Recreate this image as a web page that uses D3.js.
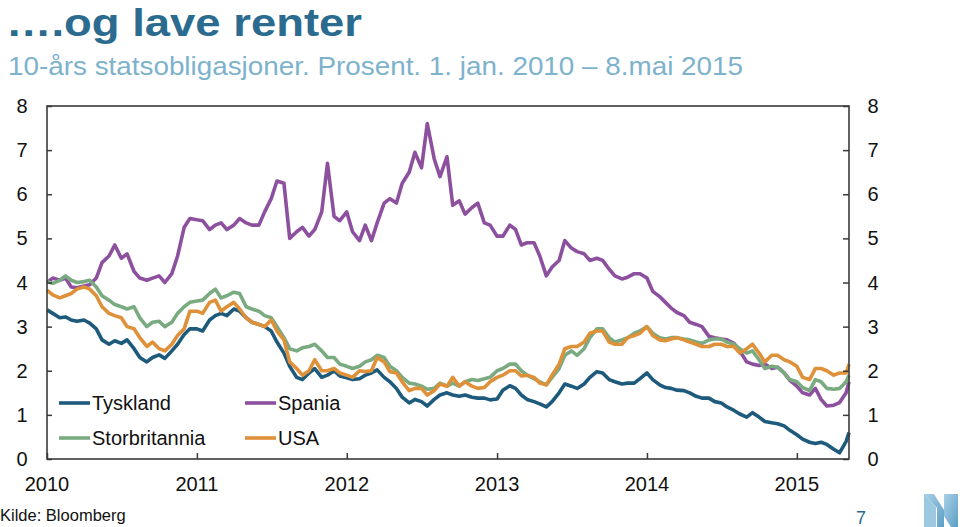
<!DOCTYPE html>
<html><head><meta charset="utf-8">
<script src="https://cdn.jsdelivr.net/npm/d3@7"></script>
<style>body{margin:0;background:#fff}svg{display:block}</style>
</head><body>
<svg id="c" width="960" height="527"></svg>
<script>
const dates = [
"2010-01-01","2010-01-15","2010-02-01","2010-02-15","2010-03-01","2010-03-15","2010-04-01","2010-04-15","2010-05-01","2010-05-15","2010-06-01","2010-06-15",
"2010-07-01","2010-07-15","2010-08-01","2010-08-15","2010-09-01","2010-09-15","2010-10-01","2010-10-15","2010-11-01","2010-11-15","2010-12-01","2010-12-15",
"2011-01-01","2011-01-15","2011-02-01","2011-02-15","2011-03-01","2011-03-15","2011-04-01","2011-04-15","2011-05-01","2011-05-15","2011-06-01","2011-06-15",
"2011-07-01","2011-07-15","2011-08-01","2011-08-15","2011-09-01","2011-09-15","2011-10-01","2011-10-15","2011-11-01","2011-11-15","2011-12-01","2011-12-15",
"2012-01-01","2012-01-15","2012-02-01","2012-02-15","2012-03-01","2012-03-15","2012-04-01","2012-04-15","2012-05-01","2012-05-15","2012-06-01","2012-06-15",
"2012-07-01","2012-07-15","2012-08-01","2012-08-15","2012-09-01","2012-09-15","2012-10-01","2012-10-15","2012-11-01","2012-11-15","2012-12-01","2012-12-15",
"2013-01-01","2013-01-15","2013-02-01","2013-02-15","2013-03-01","2013-03-15","2013-04-01","2013-04-15","2013-05-01","2013-05-15","2013-06-01","2013-06-15",
"2013-07-01","2013-07-15","2013-08-01","2013-08-15","2013-09-01","2013-09-15","2013-10-01","2013-10-15","2013-11-01","2013-11-15","2013-12-01","2013-12-15",
"2014-01-01","2014-01-15","2014-02-01","2014-02-15","2014-03-01","2014-03-15","2014-04-01","2014-04-15","2014-05-01","2014-05-15","2014-06-01","2014-06-15",
"2014-07-01","2014-07-15","2014-08-01","2014-08-15","2014-09-01","2014-09-15","2014-10-01","2014-10-15","2014-11-01","2014-11-15","2014-12-01","2014-12-15",
"2015-01-01","2015-01-15","2015-02-01","2015-02-15","2015-03-01","2015-03-15","2015-04-01","2015-04-15","2015-05-01","2015-05-08"];

const tyskland = [
3.38,3.30,3.20,3.22,3.15,3.12,3.15,3.08,2.95,2.70,2.60,2.68,
2.62,2.70,2.50,2.30,2.20,2.30,2.36,2.28,2.45,2.60,2.82,2.95,
2.95,2.90,3.15,3.25,3.30,3.25,3.40,3.35,3.20,3.10,3.05,3.00,
2.90,2.65,2.40,2.10,1.85,1.80,1.95,2.05,1.85,1.90,2.00,1.88,
1.84,1.80,1.82,1.90,1.95,2.02,1.85,1.75,1.60,1.40,1.27,1.35,
1.30,1.20,1.35,1.45,1.50,1.45,1.42,1.45,1.40,1.38,1.38,1.34,
1.36,1.56,1.66,1.60,1.45,1.35,1.30,1.25,1.18,1.30,1.50,1.70,
1.65,1.60,1.70,1.85,1.98,1.95,1.80,1.75,1.70,1.72,1.72,1.82,
1.95,1.80,1.68,1.62,1.60,1.56,1.55,1.50,1.42,1.38,1.38,1.30,
1.27,1.18,1.10,1.02,0.95,1.05,0.95,0.85,0.82,0.80,0.75,0.65,
0.55,0.45,0.38,0.35,0.38,0.33,0.22,0.14,0.40,0.60];

const spania = [
4.00,4.10,4.05,4.10,3.90,3.88,3.92,3.95,4.10,4.45,4.60,4.85,
4.55,4.65,4.25,4.10,4.05,4.10,4.15,4.00,4.20,4.60,5.25,5.45,
5.42,5.40,5.20,5.30,5.35,5.20,5.30,5.45,5.35,5.30,5.30,5.60,
5.90,6.30,6.25,5.00,5.15,5.25,5.05,5.20,5.60,6.70,5.50,5.40,
5.60,5.15,4.95,5.30,4.95,5.35,5.80,5.90,5.80,6.25,6.50,6.95,
6.60,7.60,6.80,6.40,6.85,5.75,5.85,5.55,5.70,5.80,5.35,5.30,
5.05,5.05,5.30,5.20,4.85,4.90,4.90,4.60,4.15,4.35,4.50,4.95,
4.78,4.70,4.65,4.50,4.55,4.50,4.30,4.15,4.08,4.12,4.20,4.20,
4.10,3.80,3.68,3.55,3.42,3.32,3.25,3.10,3.05,3.00,2.78,2.75,
2.72,2.70,2.62,2.45,2.20,2.15,2.12,2.15,2.05,2.08,1.95,1.78,
1.65,1.50,1.45,1.60,1.35,1.20,1.22,1.28,1.50,1.75];

const storbritannia = [
4.02,3.98,4.05,4.15,4.05,4.00,4.02,4.05,3.90,3.70,3.60,3.50,
3.45,3.40,3.45,3.20,3.00,3.10,3.12,3.00,3.10,3.30,3.45,3.55,
3.58,3.60,3.75,3.85,3.65,3.70,3.78,3.75,3.45,3.40,3.35,3.25,
3.20,3.00,2.75,2.50,2.45,2.52,2.55,2.60,2.45,2.30,2.30,2.15,
2.10,2.05,2.10,2.20,2.25,2.35,2.30,2.10,2.00,1.85,1.72,1.70,
1.65,1.58,1.60,1.72,1.65,1.72,1.65,1.75,1.80,1.78,1.82,1.85,
2.00,2.05,2.15,2.15,2.00,1.90,1.82,1.75,1.68,1.85,2.05,2.35,
2.45,2.35,2.50,2.75,2.95,2.95,2.75,2.65,2.70,2.75,2.85,2.90,
3.00,2.85,2.75,2.72,2.75,2.75,2.72,2.70,2.65,2.62,2.70,2.72,
2.72,2.65,2.60,2.50,2.40,2.45,2.25,2.05,2.10,2.08,1.95,1.80,
1.75,1.62,1.55,1.80,1.75,1.60,1.58,1.60,1.75,1.90];

const usa = [
3.83,3.72,3.65,3.70,3.75,3.85,3.90,3.85,3.70,3.45,3.30,3.25,
3.20,3.00,2.95,2.75,2.55,2.65,2.50,2.45,2.60,2.80,2.95,3.35,
3.35,3.30,3.55,3.60,3.35,3.45,3.55,3.40,3.20,3.10,3.05,3.00,
3.15,2.90,2.70,2.20,2.05,1.90,2.00,2.25,2.00,2.00,2.05,1.95,
1.90,1.85,2.00,1.98,2.00,2.30,2.20,1.98,1.95,1.75,1.55,1.60,
1.60,1.45,1.55,1.70,1.65,1.85,1.65,1.75,1.65,1.60,1.62,1.75,
1.85,1.90,2.00,2.00,1.88,1.90,1.85,1.72,1.68,1.90,2.15,2.50,
2.55,2.55,2.65,2.85,2.90,2.90,2.65,2.60,2.60,2.75,2.80,2.85,
3.00,2.80,2.70,2.68,2.72,2.75,2.70,2.65,2.60,2.55,2.55,2.60,
2.60,2.55,2.55,2.40,2.50,2.60,2.40,2.20,2.35,2.35,2.25,2.20,
2.10,1.85,1.80,2.05,2.05,2.00,1.90,1.95,1.95,2.15];

const seriesNames = ["Tyskland","Spania","Storbritannia","USA"];
const seriesColors = ["#1d5a7c","#8d509e","#79aa80","#df9139"];
const yTicks = [0,1,2,3,4,5,6,7,8];
const xTickYears = ["2010","2011","2012","2013","2014","2015"];

const svg = d3.select("#c");
const parse = d3.timeParse("%Y-%m-%d");
const dd = dates.map(parse);
const L = 47, R = 849, T = 106, B = 459;
const x = d3.scaleTime().domain([parse("2010-01-01"), parse("2015-05-08")]).range([L, R]);
const y = d3.scaleLinear().domain([0, 8]).range([B, T]);
const font = "Liberation Sans, Arial, sans-serif";

// title
svg.append("text").attr("x", 6).attr("y", 36).attr("font-family", font).attr("font-weight", "bold")
  .attr("font-size", 39).attr("fill", "#2a6b8f")
  .attr("textLength", 356).attr("lengthAdjust", "spacingAndGlyphs").text("….og lave renter");
svg.append("text").attr("x", 8).attr("y", 75).attr("font-family", font)
  .attr("font-size", 25).attr("fill", "#7db2cd")
  .attr("textLength", 735).attr("lengthAdjust", "spacingAndGlyphs")
  .text("10-års statsobligasjoner. Prosent. 1. jan. 2010 – 8.mai 2015");

// lines
const data = [tyskland, spania, storbritannia, usa];
const line = d3.line().x((d, i) => x(dd[i])).y(d => y(d));
const g = svg.append("g");
data.forEach((vals, k) => {
  g.append("path").datum(vals).attr("d", line).attr("fill", "none")
    .attr("stroke", seriesColors[k]).attr("stroke-width", 3.6).attr("stroke-linejoin", "round");
});

// axes
const axCol = "#3a3a3a";
const left = d3.axisLeft(y).tickValues(yTicks).tickSize(-5).tickFormat("");
const right = d3.axisRight(y).tickValues(yTicks).tickSize(-6).tickFormat("");
const yearDates = xTickYears.map(s => parse(s + "-01-01"));
const bottom = d3.axisBottom(x).tickValues(yearDates).tickSize(-6).tickFormat("");
const gl = svg.append("g").attr("transform", `translate(${L},0)`).call(left);
const gr = svg.append("g").attr("transform", `translate(${R},0)`).call(right);
const gb = svg.append("g").attr("transform", `translate(0,${B})`).call(bottom);
[gl, gr, gb].forEach(s => { s.selectAll("line").attr("stroke", axCol).attr("stroke-width", 1.5); s.select(".domain").remove(); });
// frame
svg.append("rect").attr("x", L).attr("y", T).attr("width", R - L).attr("height", B - T)
  .attr("fill", "none").attr("stroke", axCol).attr("stroke-width", 1.6);

// y labels
yTicks.forEach(v => {
  svg.append("text").attr("x", 22).attr("y", y(v) + 7).attr("text-anchor", "middle")
    .attr("font-family", font).attr("font-size", 20).attr("fill", "#111").text(v);
  svg.append("text").attr("x", 873).attr("y", y(v) + 7).attr("text-anchor", "middle")
    .attr("font-family", font).attr("font-size", 20).attr("fill", "#111").text(v);
});
// x labels
xTickYears.forEach((s, i) => {
  svg.append("text").attr("x", x(yearDates[i])).attr("y", 491).attr("text-anchor", "middle")
    .attr("font-family", font).attr("font-size", 20).attr("fill", "#111").text(s);
});

// legend
const legPos = [[59, 403], [245, 403], [59, 438], [245, 438]];
seriesNames.forEach((n, k) => {
  const [lx, ly] = legPos[k];
  svg.append("line").attr("x1", lx).attr("x2", lx + 31).attr("y1", ly).attr("y2", ly)
    .attr("stroke", seriesColors[k]).attr("stroke-width", 3.6);
  svg.append("text").attr("x", lx + 33).attr("y", ly + 7).attr("font-family", font)
    .attr("font-size", 20).attr("fill", "#111").text(n);
});

// footer
svg.append("text").attr("x", 0).attr("y", 521).attr("font-family", font).attr("font-size", 16.5)
  .attr("fill", "#111").text("Kilde: Bloomberg");
svg.append("text").attr("x", 856).attr("y", 524).attr("font-family", font).attr("font-size", 18)
  .attr("fill", "#2a6b8f").text("7");

// logo
const defs = svg.append("defs");
const gr1 = defs.append("linearGradient").attr("id", "lg1").attr("x1", 0).attr("y1", 0).attr("x2", 1).attr("y2", 1);
gr1.append("stop").attr("offset", 0).attr("stop-color", "#a9d0e6");
gr1.append("stop").attr("offset", 1).attr("stop-color", "#5d9ec6");
const logo = svg.append("g");
logo.append("polygon").attr("points", "924,494 934,494 944,510 944,527 937,527 937,508 924,494").attr("fill", "url(#lg1)");
logo.append("polygon").attr("points", "924,494 936,507 936,527 924,527").attr("fill", "#9cc8e0");
logo.append("polygon").attr("points", "944,494 958,494 958,527 951,527 944,516").attr("fill", "url(#lg1)");
</script>
</body></html>
